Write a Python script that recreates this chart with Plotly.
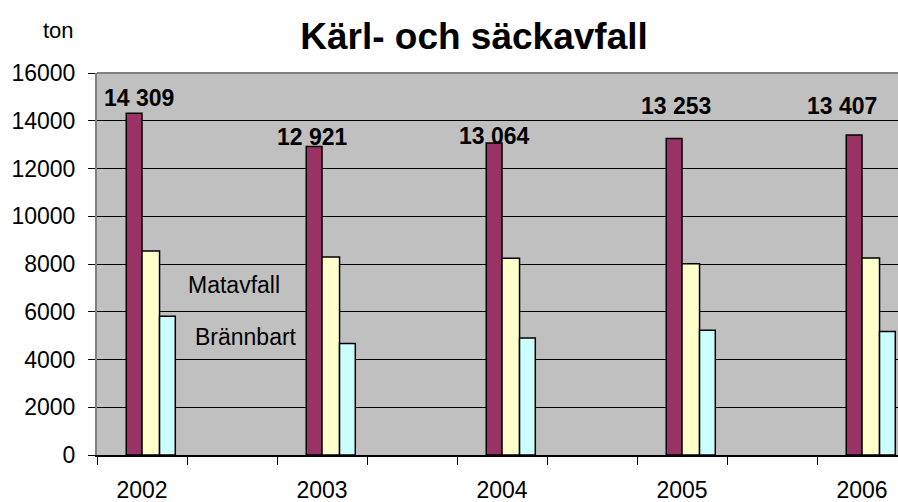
import plotly.graph_objects as go

# ---- data ----
years = ["2002", "2003", "2004", "2005", "2006"]
total = [14309, 12921, 13064, 13253, 13407]
matavfall = [8540, 8290, 8240, 8010, 8250]
brannbart = [5810, 4670, 4900, 5230, 5170]
y_ticks = [0, 2000, 4000, 6000, 8000, 10000, 12000, 14000, 16000]

# ---- styling / layout helpers ----
FONT = "Liberation Sans, Arial, sans-serif"
W, H = 898, 502
L, T, B = 97, 73, 47
PW, PH = W - L, H - T - B  # plot area in px (801 x 382)
xpos = [2 * i for i in range(len(years))]  # every other slot is an empty category
label_xshift = [-3, -10, -8, -6, -20]
label_yshift = [15, 10, 7, 33, 29]

fig = go.Figure()
fig.add_trace(go.Bar(x=xpos, y=total, width=0.175, offset=-0.175,
                     marker=dict(color="#993366", line=dict(color="black", width=1.5)),
                     name="Totalt"))
fig.add_trace(go.Bar(x=xpos, y=matavfall, width=0.195, offset=0.0,
                     marker=dict(color="#FFFFCC", line=dict(color="black", width=1.5)),
                     name="Matavfall"))
fig.add_trace(go.Bar(x=xpos, y=brannbart, width=0.175, offset=0.195,
                     marker=dict(color="#CCFFFF", line=dict(color="black", width=1.5)),
                     name="Brännbart"))

annotations = []
for x, v, dx, dy in zip(xpos, total, label_xshift, label_yshift):
    annotations.append(dict(x=x, y=v, xref="x", yref="y", text=f"{v:,}".replace(",", " "),
                            showarrow=False, xanchor="center", yanchor="middle",
                            xshift=dx, yshift=dy,
                            font=dict(family=FONT, size=23, color="black", weight="bold")))
annotations.append(dict(x=1.02, y=7100, xref="x", yref="y", text="Matavfall", showarrow=False,
                        xanchor="center", yanchor="middle",
                        font=dict(family=FONT, size=23, color="black")))
annotations.append(dict(x=1.155, y=4960, xref="x", yref="y", text="Brännbart", showarrow=False,
                        xanchor="center", yanchor="middle",
                        font=dict(family=FONT, size=23, color="black")))
# 'ton' unit label above the y axis (page px 58.5, 31)
annotations.append(dict(x=(58.5 - L) / PW, y=(T + PH - 31) / PH,
                        xref="paper", yref="paper", text="ton", showarrow=False,
                        xanchor="center", yanchor="middle",
                        font=dict(family=FONT, size=22, color="black")))

fig.update_layout(
    width=W, height=H,
    margin=dict(l=L, r=0, t=T, b=B, autoexpand=False),
    paper_bgcolor="white",
    plot_bgcolor="#C0C0C0",
    barmode="overlay",
    showlegend=False,
    font=dict(family=FONT, size=23, color="black"),
    title=dict(text="<b>Kärl- och säckavfall</b>", x=474 / W, xref="container",
               xanchor="center", y=1 - 36 / H, yref="container", yanchor="middle",
               font=dict(family=FONT, size=37, color="black")),
    annotations=annotations,
    xaxis=dict(
        range=[-0.5, -0.5 + PW / 90],
        tickmode="array", tickvals=xpos, ticktext=years,
        ticks="", showgrid=False, zeroline=False,
        showline=True, linecolor="black", linewidth=1.5,
        tickfont=dict(family=FONT, size=23, color="black"),
        ticklabelstandoff=14,
        minor=dict(tickmode="linear", tick0=-0.5, dtick=1, ticks="outside",
                   ticklen=8, tickcolor="black", tickwidth=1, showgrid=False),
    ),
    yaxis=dict(
        range=[0, 16000], tickmode="array", tickvals=y_ticks, tickformat="d",
        ticks="outside", ticklen=7, tickcolor="black", tickwidth=1,
        showgrid=True, gridcolor="black", gridwidth=1,
        zeroline=False, showline=True, linecolor="#808080", linewidth=2,
        tickfont=dict(family=FONT, size=23, color="black"),
        ticklabelstandoff=8,
    ),
    shapes=[dict(type="line", xref="paper", yref="paper", x0=0, x1=1, y0=1, y1=1,
                 line=dict(color="#808080", width=2))],
)

fig.write_html("out.html",
               config={"displayModeBar": False},
               post_script="document.body.style.margin='0';document.body.style.overflow='hidden';")
